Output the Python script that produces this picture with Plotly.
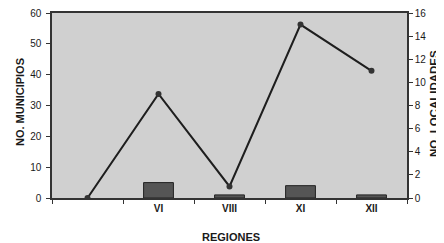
import plotly.graph_objects as go

regiones = [" ", "VI", "VIII", "XI", "XII"]
municipios = [None, 5, 1, 4, 1]
localidades = [0, 9, 1, 15, 11]
left_ticks = [0, 10, 20, 30, 40, 50, 60]
right_ticks = [0, 2, 4, 6, 8, 10, 12, 14, 16]

FAM = "Liberation Sans, Arial"
tickfont = dict(family=FAM, size=10, color="#1a1a1a")

fig = go.Figure()
fig.add_trace(go.Bar(
    x=regiones, y=municipios, yaxis="y",
    marker=dict(color="#555555", line=dict(color="#222222", width=1)),
    width=0.42, showlegend=False,
))
fig.add_trace(go.Scatter(
    x=regiones, y=localidades, yaxis="y2", mode="lines+markers",
    line=dict(color="#1e1e1e", width=2),
    marker=dict(color="#333333", size=6),
    showlegend=False,
))

# page has an 8px body margin; compensate
OFF = 8
W, H = 444 - OFF, 243 - OFF
L, R, T, B = 52 - OFF, 37, 13 - OFF, 45
pw, ph = W - L - R, H - T - B

def px(x):
    return (x - OFF - L) / pw

def py(y):
    return (H - B - (y - OFF)) / ph

fig.update_layout(
    width=W, height=H,
    margin=dict(l=L, r=R, t=T, b=B, autoexpand=False),
    paper_bgcolor="white",
    plot_bgcolor="#d0d0d0",
    font=dict(family=FAM, size=10, color="#1a1a1a"),
    xaxis=dict(
        type="category", tickson="boundaries", ticks="outside", ticklen=4,
        tickcolor="#333", showline=True, linecolor="#333", linewidth=1.5,
        mirror=True, showgrid=False, range=[-0.5, 4.5], automargin=False,
        tickfont=tickfont, tickprefix="<b>", ticksuffix="</b>",
        ticklabeloverflow="allow",
    ),
    yaxis=dict(
        range=[0, 60], tickvals=left_ticks, ticks="outside", ticklen=4,
        tickcolor="#333", showline=True, linecolor="#333", linewidth=1.5,
        showgrid=False, zeroline=False, automargin=False,
        tickfont=tickfont, tickprefix="<b>", ticksuffix="</b>",
        ticklabeloverflow="allow", ticklabelstandoff=3,
    ),
    yaxis2=dict(
        range=[0, 16], tickvals=right_ticks, overlaying="y", side="right",
        ticks="outside", ticklen=4, tickcolor="#333", showline=True,
        linecolor="#333", linewidth=1.5, showgrid=False, zeroline=False,
        automargin=False,
        tickfont=tickfont, tickprefix="<b>", ticksuffix="</b>",
        ticklabeloverflow="allow",
    ),
    annotations=[
        dict(text="<b>NO. MUNICIPIOS</b>", textangle=-90, xref="paper", yref="paper",
             x=px(20), y=py(102), xanchor="center", yanchor="middle",
             showarrow=False, font=dict(family=FAM, size=11)),
        dict(text="<b>NO. LOCALIDADES</b>", textangle=-90, xref="paper", yref="paper",
             x=px(434), y=py(103), xanchor="center", yanchor="middle",
             showarrow=False, font=dict(family=FAM, size=11.5)),
        dict(text="<b>REGIONES</b>", xref="paper", yref="paper",
             x=px(231), y=py(237), xanchor="center", yanchor="middle",
             showarrow=False, font=dict(family=FAM, size=11)),
    ],
)

fig.write_html("out.html")
